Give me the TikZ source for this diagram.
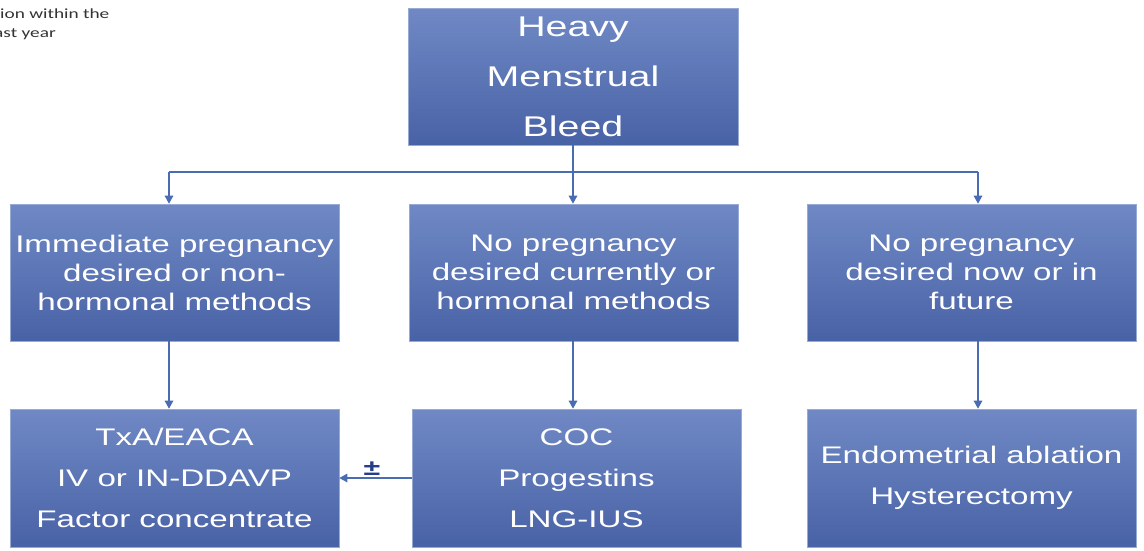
\documentclass[tikz,border=0pt]{standalone}
\usepackage{fontspec}
\setmainfont[FakeStretch=1.38]{Liberation Sans}
\newfontfamily\notefont[FakeStretch=1.38]{Carlito}
\usetikzlibrary{arrows.meta}
\begin{document}
\begin{tikzpicture}[x=1pt,y=-1pt,
  box/.style={draw=boxEdge,line width=0.6pt,top color=boxTop,bottom color=boxBot,
    text=white,minimum width=329pt,minimum height=137pt,inner sep=0pt,align=center,
    font=\fontsize{24}{29}\selectfont},
  lower/.style={minimum height=138pt,font=\fontsize{24}{41}\selectfont},
  wire/.style={draw=linkColor,line width=1.4pt},
  link/.style={wire,-{Triangle[length=8pt,width=8.5pt]}},
  note/.style={text=noteColor,anchor=base west,inner sep=0pt,font=\notefont\fontsize{14}{17}\selectfont}]
\definecolor{boxTop}{RGB}{112,137,197}
\definecolor{boxBot}{RGB}{72,98,166}
\definecolor{boxEdge}{RGB}{150,170,212}
\definecolor{linkColor}{RGB}{74,108,178}
\definecolor{pmColor}{RGB}{36,62,135}
\definecolor{noteColor}{RGB}{51,51,51}
\path[use as bounding box,fill=white] (0,0) rectangle (1144,550);

\node[note] (n1) at (0,18) {ion within the};
\node[note] (n2) at (-6,37) {ast year};

\node[box,minimum width=330pt,font=\fontsize{28.5}{50}\selectfont] (hmb) at (573,76.5) {Heavy\\Menstrual\\Bleed};

\node[box] (imm) at (174.5,272.5) {Immediate pregnancy\\desired or non-\\hormonal methods};
\node[box] (cur) at (573.5,272.5) {No pregnancy\\desired currently or\\hormonal methods};
\node[box] (fut) at (971.5,272.5) {No pregnancy\\desired now or in\\future};

\node[box,lower] (hem) at (174.5,478) {TxA/EACA\\IV or IN-DDAVP\\Factor concentrate};
\node[box,lower] (hor) at (576.5,478) {COC\\Progestins\\LNG-IUS};
\node[box,lower] (sur) at (971.5,478) {Endometrial ablation\\Hysterectomy};

\coordinate (split) at (573,172);
\coordinate (j1) at (169,172);
\coordinate (j3) at (978,172);

\draw[wire] (hmb.south) -- (split);
\draw[wire] (j1) -- (j3);
\draw[link] (j1) -- (j1 |- imm.north);
\draw[link] (split) -- (split |- cur.north);
\draw[link] (j3) -- (j3 |- fut.north);

\draw[link] (j1 |- imm.south) -- (j1 |- hem.north);
\draw[link] (split |- cur.south) -- (split |- hor.north);
\draw[link] (j3 |- fut.south) -- (j3 |- sur.north);

\draw[link] (hor.west) -- node[above,pos=0.55,inner sep=1.5pt,text=pmColor,font=\bfseries\fontsize{22}{22}\selectfont] (pm) {±} (hem.east);
\end{tikzpicture}
\end{document}
